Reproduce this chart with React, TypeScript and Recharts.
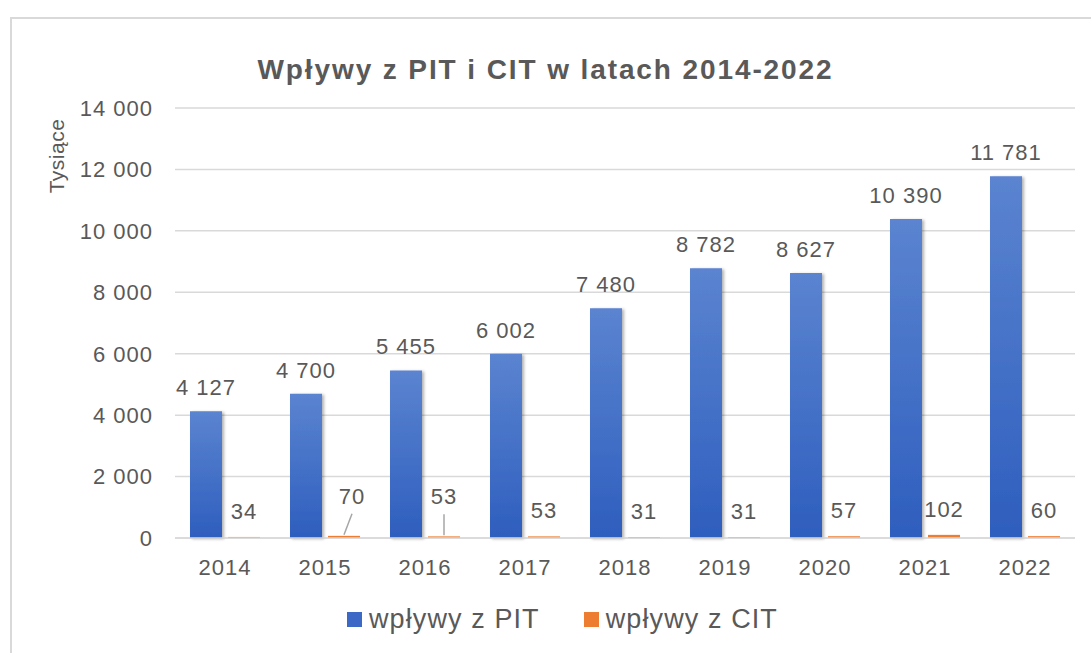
import React from "react";
import { BarChart, Bar, XAxis, YAxis, CartesianGrid, Legend, LabelList } from "recharts";

const years = ["2014", "2015", "2016", "2017", "2018", "2019", "2020", "2021", "2022"];
const pit = [4127, 4700, 5455, 6002, 7480, 8782, 8627, 10390, 11781];
const cit = [34, 70, 53, 53, 31, 31, 57, 102, 60];
const yTicks = [0, 2000, 4000, 6000, 8000, 10000, 12000, 14000];
const seriesNames = ["wpływy z PIT", "wpływy z CIT"];

const TEXT = "#595959";
const GRID = "#d9d9d9";
const ORANGE = "#ed7d31";
const FONT = "'Liberation Sans', Arial, sans-serif";

const seriesColors: Record<string, string> = {
  [seriesNames[0]]: "#3c68c6",
  [seriesNames[1]]: ORANGE,
};

const data = years.map((year, i) => ({ year, pit: pit[i], cit: cit[i] }));

function fmt(v: number): string {
  return String(v).replace(/\B(?=(\d{3})+(?!\d))/g, " ");
}

function PitLabel(props: any) {
  const { x, y, width, value } = props;
  return (
    <text
      x={x + width / 2}
      y={y - 16}
      textAnchor="middle"
      fill={TEXT}
      fontSize={22}
      letterSpacing={1}
      fontFamily={FONT}
    >
      {fmt(value)}
    </text>
  );
}

// labels Excel pulled upwards, with a leader line back to the bar
const lifted: Record<number, { dx: number }> = { 1: { dx: 8 }, 2: { dx: 0 } };

function CitLabel(props: any) {
  const { x, y, width, value, index } = props;
  const cx = x + width / 2;
  const lift = lifted[index];
  if (lift) {
    return (
      <g>
        <line x1={cx} y1={y - 1} x2={cx + lift.dx} y2={y - 22} stroke="#a6a6a6" strokeWidth={1.5} />
        <text x={cx + lift.dx} y={y - 32} textAnchor="middle" fill={TEXT} fontSize={22} letterSpacing={1} fontFamily={FONT}>
          {fmt(value)}
        </text>
      </g>
    );
  }
  return (
    <text x={cx} y={y - 18} textAnchor="middle" fill={TEXT} fontSize={22} letterSpacing={1} fontFamily={FONT}>
      {fmt(value)}
    </text>
  );
}

function LegendContent(props: any) {
  const items = [...(props.payload || [])].sort(
    (a: any, b: any) => seriesNames.indexOf(a.value) - seriesNames.indexOf(b.value)
  );
  return (
    <div style={{ display: "flex", alignItems: "center", fontFamily: FONT, fontSize: 27, color: TEXT, letterSpacing: 1.1 }}>
      {items.map((it: any, i: number) => (
        <div key={i} style={{ display: "flex", alignItems: "center", marginRight: 44 }}>
          <span style={{ display: "inline-block", width: 15, height: 15, background: seriesColors[it.value], marginRight: 7 }} />
          <span>{it.value}</span>
        </div>
      ))}
    </div>
  );
}

export default function App() {
  return (
    <div style={{ position: "absolute", left: 0, top: 0, width: 1091, height: 653, background: "#fff", overflow: "hidden" }}>
      <div
        style={{
          position: "absolute",
          left: 10,
          top: 17,
          width: 1100,
          height: 660,
          border: `2px solid ${GRID}`,
          boxSizing: "border-box",
        }}
      />
      <div
        style={{
          position: "absolute",
          top: 50,
          left: 0,
          width: 1091,
          textAlign: "center",
          fontFamily: FONT,
          fontWeight: "bold",
          fontSize: 28,
          letterSpacing: 1.9,
          color: TEXT,
          lineHeight: "40px",
        }}
      >
        Wpływy z PIT i CIT w latach 2014-2022
      </div>
      <div
        style={{
          position: "absolute",
          left: 57,
          top: 156,
          transform: "translate(-50%, -50%) rotate(-90deg)",
          fontFamily: FONT,
          fontSize: 21,
          letterSpacing: 0.5,
          color: TEXT,
          whiteSpace: "nowrap",
        }}
      >
        Tysiące
      </div>
      <BarChart
        width={1091}
        height={653}
        data={data}
        margin={{ top: 108, right: 16, bottom: 85, left: 115 }}
        barCategoryGap="15%"
        barGap={6}
        style={{ position: "absolute", left: 0, top: 0 }}
      >
        <defs>
          <linearGradient id="pitGrad" x1="0" y1="0" x2="0" y2="1">
            <stop offset="0%" stopColor="#5b84d0" />
            <stop offset="100%" stopColor="#2e5ebe" />
          </linearGradient>
          <filter id="barShadow" x="-20%" y="-5%" width="140%" height="110%">
            <feDropShadow dx="2" dy="1" stdDeviation="1.5" floodColor="#000" floodOpacity="0.3" />
          </filter>
        </defs>
        <CartesianGrid vertical={false} stroke={GRID} strokeWidth={1.5} />
        <XAxis
          dataKey="year"
          axisLine={{ stroke: GRID, strokeWidth: 1.5 }}
          tickLine={false}
          tickMargin={15}
          tick={{ fill: TEXT, fontSize: 22, fontFamily: FONT, letterSpacing: 1 }}
        />
        <YAxis
          width={60}
          domain={[0, 14000]}
          ticks={yTicks}
          axisLine={false}
          tickLine={false}
          tickMargin={16}
          tickFormatter={fmt}
          tick={{ fill: TEXT, fontSize: 22, fontFamily: FONT, letterSpacing: 1 }}
        />
        <Legend
          layout="horizontal"
          verticalAlign="middle"
          align="center"
          content={<LegendContent />}
          wrapperStyle={{ top: 604, left: 347, width: 600, height: 40 }}
        />
        <Bar dataKey="pit" name={seriesNames[0]} fill="url(#pitGrad)" filter="url(#barShadow)" isAnimationActive={false}>
          <LabelList dataKey="pit" content={<PitLabel />} />
        </Bar>
        <Bar dataKey="cit" name={seriesNames[1]} fill={ORANGE} isAnimationActive={false}>
          <LabelList dataKey="cit" content={<CitLabel />} />
        </Bar>
      </BarChart>
    </div>
  );
}
